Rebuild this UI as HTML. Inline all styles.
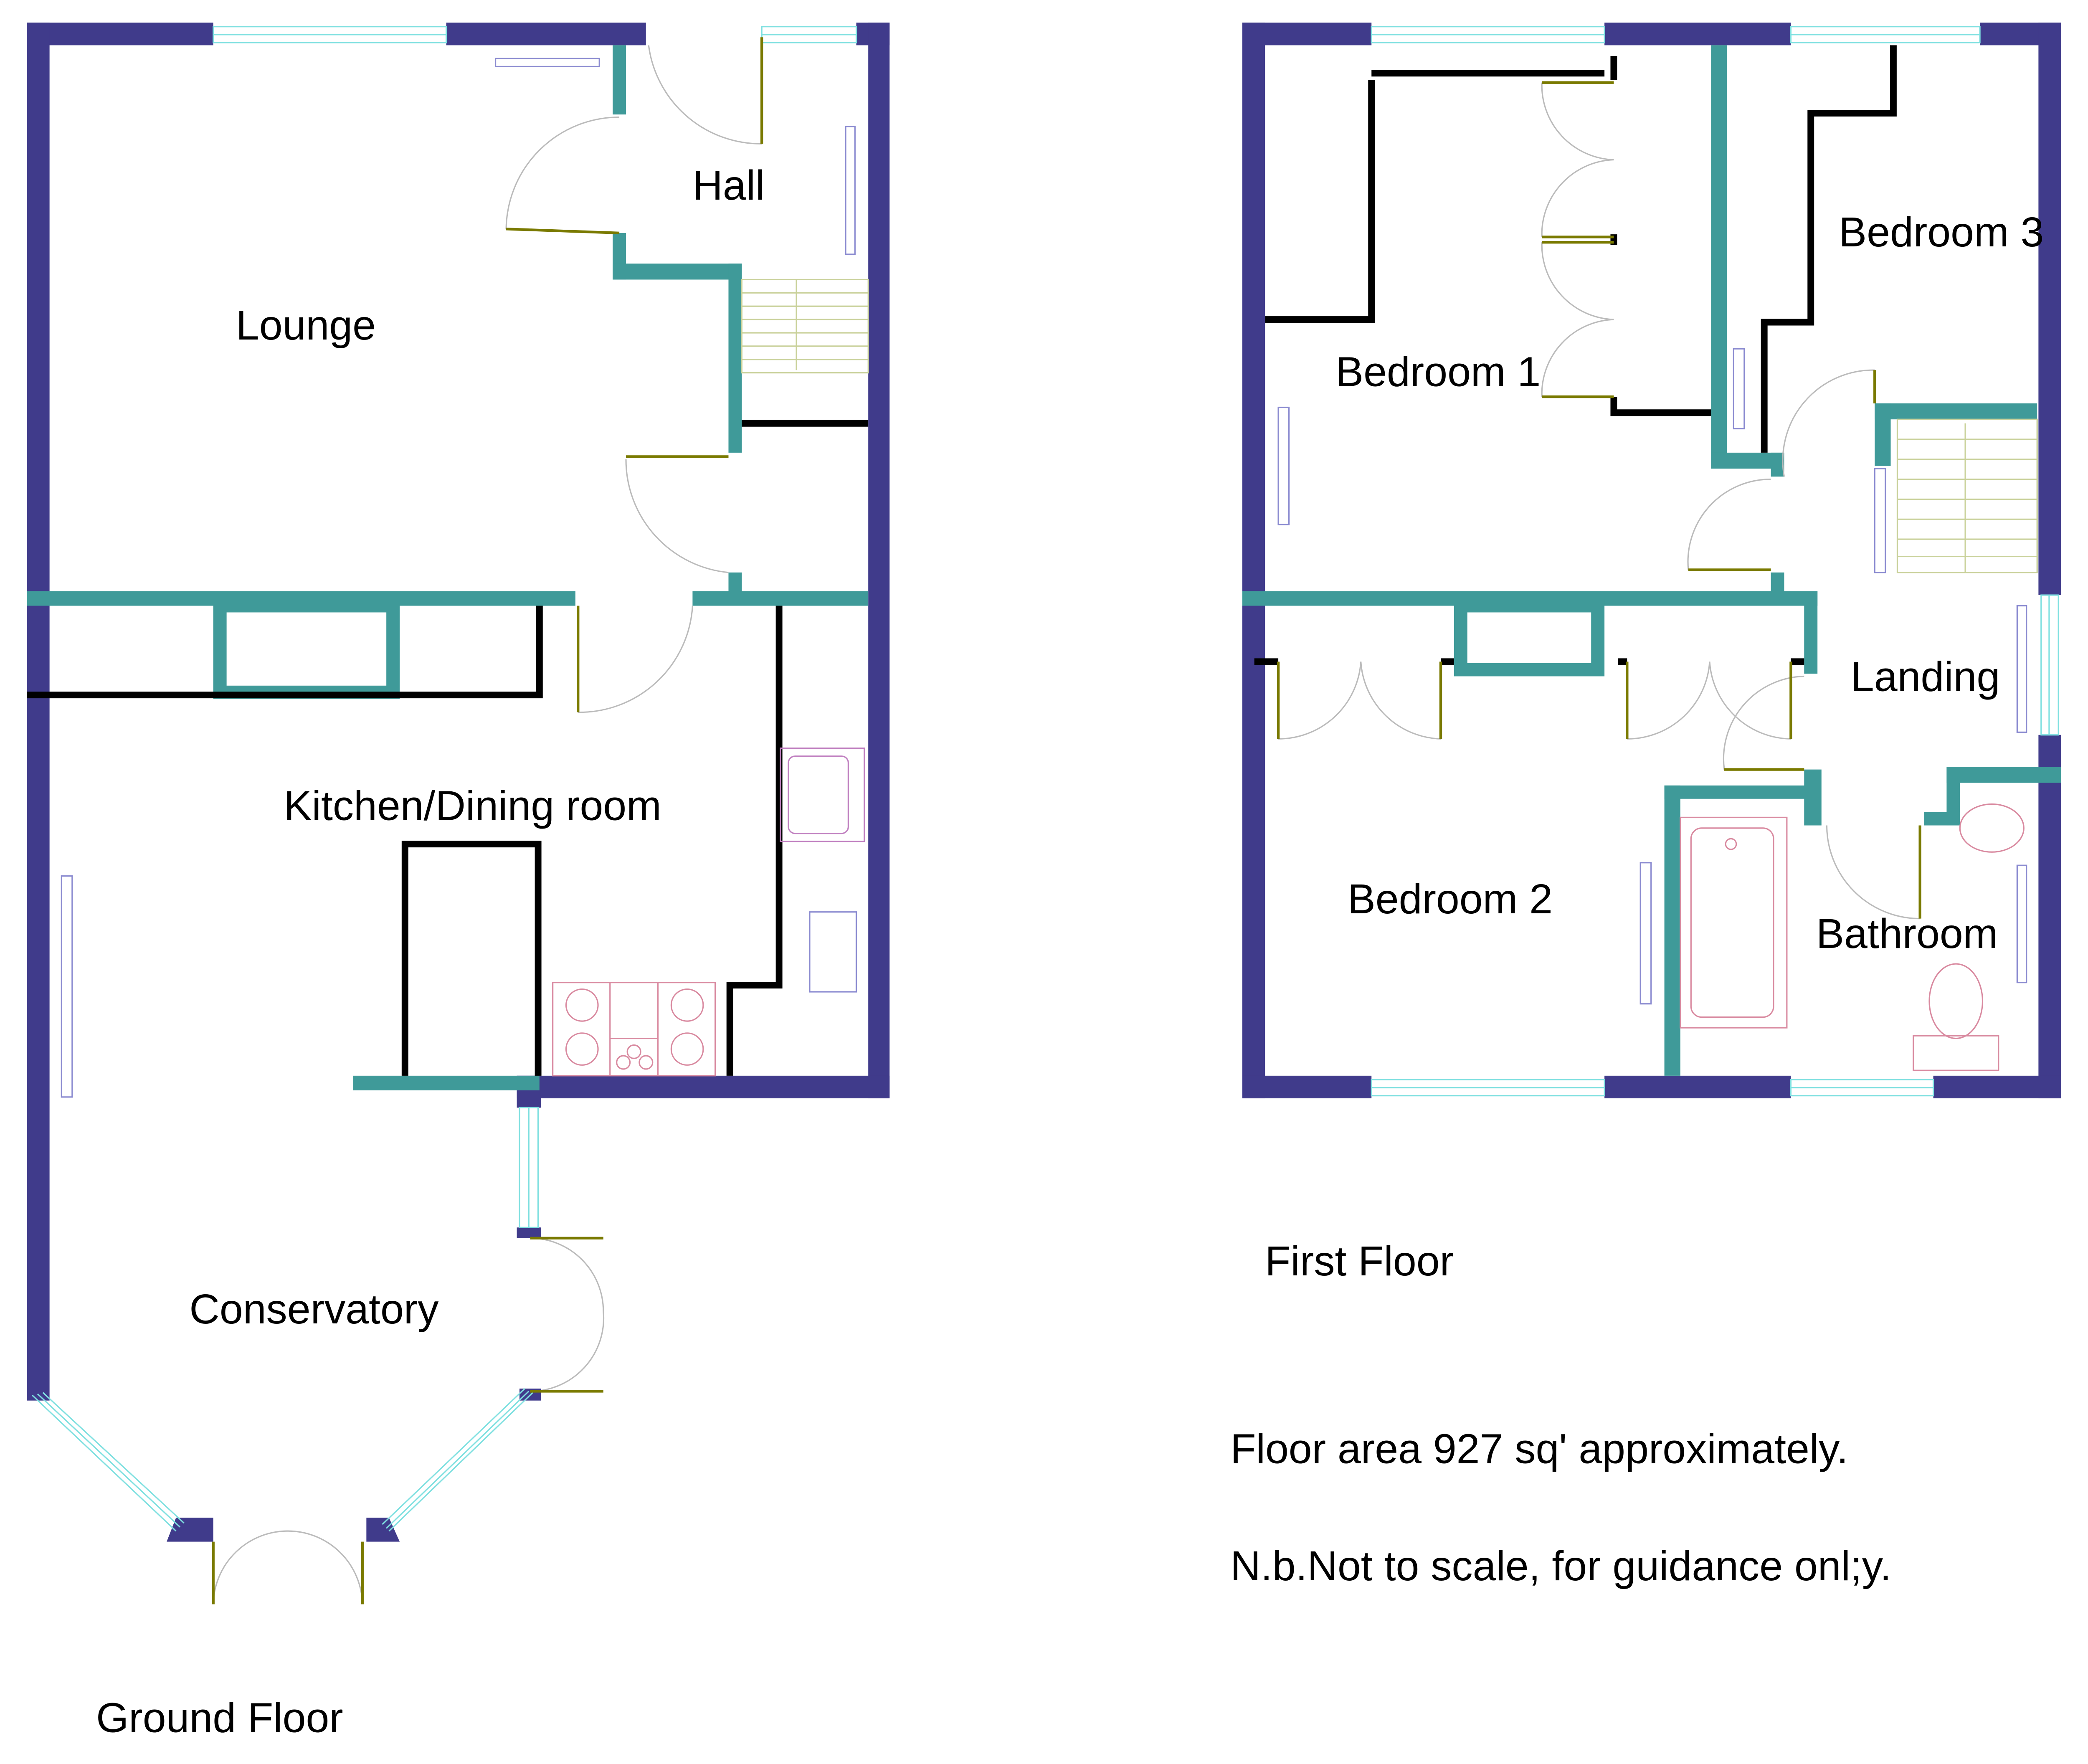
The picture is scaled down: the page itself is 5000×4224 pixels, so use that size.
<!DOCTYPE html>
<html><head><meta charset="utf-8"><style>
html,body{margin:0;padding:0;background:#fff;}
svg{display:block;}
text{font-family:"Liberation Sans",sans-serif;fill:#000;}
</style></head><body>
<svg width="5000" height="4224" viewBox="0 0 1568 1325" xmlns="http://www.w3.org/2000/svg">
<rect width="1568" height="1325" fill="#fff"/>
<g fill="#403b8b">
<rect x="20" y="17" width="140" height="17"/>
<rect x="335" y="17" width="150" height="17"/>
<rect x="643" y="17" width="25" height="17"/>
<rect x="20" y="17" width="17" height="1035"/>
<rect x="652" y="17" width="16" height="808"/>
<rect x="388" y="808" width="280" height="17"/>
<rect x="388" y="808" width="18" height="24"/>
<rect x="388" y="922" width="18" height="8"/>
<rect x="390" y="1043" width="16" height="9"/>
<polygon points="132,1140 160,1140 160,1158 125,1158"/>
<polygon points="275,1140 292,1140 300,1158 275,1158"/>
<rect x="933" y="17" width="97" height="17"/>
<rect x="1205" y="17" width="140" height="17"/>
<rect x="1487" y="17" width="61" height="17"/>
<rect x="933" y="17" width="17" height="808"/>
<rect x="1531" y="17" width="17" height="430"/>
<rect x="1531" y="552" width="17" height="273"/>
<rect x="933" y="808" width="97" height="17"/>
<rect x="1205" y="808" width="140" height="17"/>
<rect x="1452" y="808" width="96" height="17"/>
</g>
<g fill="none" stroke="#7fe0e0" stroke-width="1">
<rect x="160" y="20" width="175" height="12"/><line x1="160" y1="26" x2="335" y2="26"/>
<rect x="572" y="20" width="71" height="12"/><line x1="572" y1="26" x2="643" y2="26"/>
<rect x="390" y="832" width="14" height="90"/><line x1="397" y1="832" x2="397" y2="922"/>
<rect x="1030" y="20" width="175" height="12"/><line x1="1030" y1="26" x2="1205" y2="26"/>
<rect x="1345" y="20" width="142" height="12"/><line x1="1345" y1="26" x2="1487" y2="26"/>
<rect x="1030" y="811" width="175" height="12"/><line x1="1030" y1="817" x2="1205" y2="817"/>
<rect x="1345" y="811" width="107" height="12"/><line x1="1345" y1="817" x2="1452" y2="817"/>
<rect x="1533" y="447" width="13" height="105"/><line x1="1539" y1="447" x2="1539" y2="552"/>
<line x1="24" y1="1048" x2="132" y2="1150"/><line x1="32" y1="1046" x2="138" y2="1144"/><line x1="28" y1="1047" x2="135" y2="1147"/>
<line x1="400" y1="1046" x2="292" y2="1150"/><line x1="394" y1="1043" x2="287" y2="1145"/><line x1="397" y1="1045" x2="290" y2="1148"/>
</g>
<g fill="#3f9a99">
<rect x="20" y="444" width="412" height="11"/>
<rect x="520" y="444" width="132" height="11"/>
<rect x="547" y="430" width="10" height="15"/>
<rect x="460" y="34" width="10" height="52"/>
<rect x="460" y="175" width="10" height="35"/>
<rect x="460" y="198" width="97" height="12"/>
<rect x="547" y="198" width="10" height="142"/>
<rect x="265" y="808" width="140" height="11"/>
<rect x="933" y="444" width="432" height="11"/>
<rect x="1355" y="444" width="10" height="62"/>
<rect x="1285" y="34" width="12" height="316"/>
<rect x="1285" y="340" width="55" height="12"/>
<rect x="1330" y="340" width="10" height="18"/>
<rect x="1330" y="430" width="10" height="15"/>
<rect x="1408" y="303" width="122" height="12"/>
<rect x="1408" y="303" width="12" height="47"/>
<rect x="1250" y="590" width="12" height="218"/>
<rect x="1250" y="590" width="115" height="10"/>
<rect x="1355" y="578" width="13" height="42"/>
<rect x="1462" y="576" width="86" height="12"/>
<rect x="1462" y="576" width="10" height="44"/>
<rect x="1445" y="610" width="27" height="10"/>
</g>
<g fill="none" stroke="#3f9a99" stroke-width="10">
<rect x="165" y="455" width="130" height="65"/>
<rect x="1097" y="455" width="103" height="48"/>
</g>
<g fill="none" stroke="#000" stroke-width="5">
<polyline points="20,522 405,522 405,455"/>
<line x1="557" y1="318" x2="652" y2="318"/>
<polyline points="585,455 585,740 548,740 548,808"/>
<polyline points="304,808 304,634 404,634 404,808"/>
<polyline points="1030,60 1030,240 950,240"/>
<line x1="1030" y1="55" x2="1205" y2="55"/>
<line x1="1212" y1="42" x2="1212" y2="60"/>
<polyline points="1212,298 1212,310 1285,310"/>
<line x1="1212" y1="176" x2="1212" y2="184"/>
<polyline points="1422,34 1422,85 1360,85 1360,242 1325,242 1325,340"/>
<line x1="942" y1="497" x2="960" y2="497"/>
<line x1="1082" y1="497" x2="1092" y2="497"/>
<line x1="1215" y1="497" x2="1222" y2="497"/>
<line x1="1345" y1="497" x2="1355" y2="497"/>
</g>
<g fill="none" stroke="#bbb" stroke-width="1">
<path d="M380,172 A85,85 0 0 1 465,88"/>
<path d="M487,34 A85,85 0 0 0 572,108"/>
<path d="M470,345 A85,85 0 0 0 547,430"/>
<path d="M434,535 A85,85 0 0 0 520,455"/>
<path d="M398,930 A55,55 0 0 1 453,985 A55,55 0 0 1 398,1045"/>
<path d="M160,1205 A56,56 0 0 1 216,1150 A56,56 0 0 1 272,1205"/>
<path d="M1158,62 A56,56 0 0 0 1212,120 A56,56 0 0 0 1158,178"/>
<path d="M1158,182 A56,56 0 0 0 1212,240 A56,56 0 0 0 1158,298"/>
<path d="M960,555 A62,62 0 0 0 1022,497 A62,62 0 0 0 1082,555"/>
<path d="M1222,555 A62,62 0 0 0 1284,497 A62,62 0 0 0 1345,555"/>
<path d="M1268,428 A62,62 0 0 1 1330,360"/>
<path d="M1340,358 A68,68 0 0 1 1408,278"/>
<path d="M1295,578 A62,62 0 0 1 1355,508"/>
<path d="M1372,620 A70,70 0 0 0 1442,690"/>
</g>
<g fill="none" stroke="#7a7a00" stroke-width="2">
<line x1="380" y1="172" x2="465" y2="175"/>
<line x1="572" y1="28" x2="572" y2="108"/>
<line x1="470" y1="343" x2="547" y2="343"/>
<line x1="434" y1="455" x2="434" y2="535"/>
<line x1="398" y1="930" x2="453" y2="930"/><line x1="398" y1="1045" x2="453" y2="1045"/>
<line x1="160" y1="1158" x2="160" y2="1205"/><line x1="272" y1="1158" x2="272" y2="1205"/>
<line x1="1158" y1="62" x2="1212" y2="62"/><line x1="1158" y1="178" x2="1212" y2="178"/>
<line x1="1158" y1="182" x2="1212" y2="182"/><line x1="1158" y1="298" x2="1212" y2="298"/>
<line x1="960" y1="497" x2="960" y2="555"/><line x1="1082" y1="497" x2="1082" y2="555"/>
<line x1="1222" y1="497" x2="1222" y2="555"/><line x1="1345" y1="497" x2="1345" y2="555"/>
<line x1="1268" y1="428" x2="1330" y2="428"/>
<line x1="1408" y1="278" x2="1408" y2="303"/>
<line x1="1295" y1="578" x2="1355" y2="578"/>
<line x1="1442" y1="620" x2="1442" y2="690"/>
</g>
<g stroke="#c9d19a" stroke-width="1" fill="none">
<rect x="557" y="210" width="95" height="70"/>
<line x1="557" y1="220" x2="652" y2="220"/><line x1="557" y1="230" x2="652" y2="230"/><line x1="557" y1="240" x2="652" y2="240"/><line x1="557" y1="250" x2="652" y2="250"/><line x1="557" y1="260" x2="652" y2="260"/><line x1="557" y1="270" x2="652" y2="270"/>
<line x1="598" y1="210" x2="598" y2="278"/>
<rect x="1425" y="315" width="105" height="115"/>
<line x1="1425" y1="330" x2="1530" y2="330"/><line x1="1425" y1="345" x2="1530" y2="345"/><line x1="1425" y1="360" x2="1530" y2="360"/><line x1="1425" y1="375" x2="1530" y2="375"/><line x1="1425" y1="390" x2="1530" y2="390"/><line x1="1425" y1="405" x2="1530" y2="405"/><line x1="1425" y1="418" x2="1530" y2="418"/>
<line x1="1476" y1="318" x2="1476" y2="430"/>
</g>
<g fill="none" stroke="#8a8ad0" stroke-width="1">
<rect x="372" y="44" width="78" height="6"/>
<rect x="635" y="95" width="7" height="96"/>
<rect x="46" y="658" width="8" height="166"/>
<rect x="960" y="306" width="8" height="88"/>
<rect x="1302" y="262" width="8" height="60"/>
<rect x="1408" y="352" width="8" height="78"/>
<rect x="1515" y="455" width="7" height="95"/>
<rect x="1232" y="648" width="8" height="106"/>
<rect x="1515" y="650" width="7" height="88"/>
<rect x="608" y="685" width="35" height="60"/>
</g>
<g fill="none" stroke="#d98aa0" stroke-width="1">
<rect x="415" y="738" width="122" height="70"/>
<line x1="458" y1="738" x2="458" y2="808"/><line x1="494" y1="738" x2="494" y2="808"/><line x1="458" y1="780" x2="494" y2="780"/>
<circle cx="437" cy="755" r="12"/><circle cx="437" cy="788" r="12"/><circle cx="516" cy="755" r="12"/><circle cx="516" cy="788" r="12"/>
<circle cx="468" cy="798" r="5"/><circle cx="485" cy="798" r="5"/><circle cx="476" cy="790" r="5"/>
<rect x="1262" y="614" width="80" height="158"/>
<rect x="1270" y="622" width="62" height="142" rx="8"/>
<circle cx="1300" cy="634" r="4"/>
<rect x="1437" y="778" width="64" height="26"/>
<ellipse cx="1469" cy="752" rx="20" ry="28"/>
<ellipse cx="1496" cy="622" rx="24" ry="18"/>
</g>
<g fill="none" stroke="#c080c0" stroke-width="1">
<rect x="586" y="562" width="63" height="70"/>
<rect x="592" y="568" width="45" height="58" rx="5"/>
</g>
<g font-size="31.5">
<text x="520" y="150">Hall</text>
<text x="177" y="255">Lounge</text>
<text x="213" y="616">Kitchen/Dining room</text>
<text x="142" y="994">Conservatory</text>
<text x="72" y="1301">Ground Floor</text>
<text x="1381" y="185">Bedroom 3</text>
<text x="1003" y="290">Bedroom 1</text>
<text x="1390" y="519">Landing</text>
<text x="1012" y="686">Bedroom 2</text>
<text x="1364" y="712">Bathroom</text>
<text x="950" y="958">First Floor</text>
<text x="924" y="1099">Floor area 927 sq' approximately.</text>
<text x="924" y="1187">N.b.Not to scale, for guidance onl;y.</text>
</g>
</svg>
</body></html>
